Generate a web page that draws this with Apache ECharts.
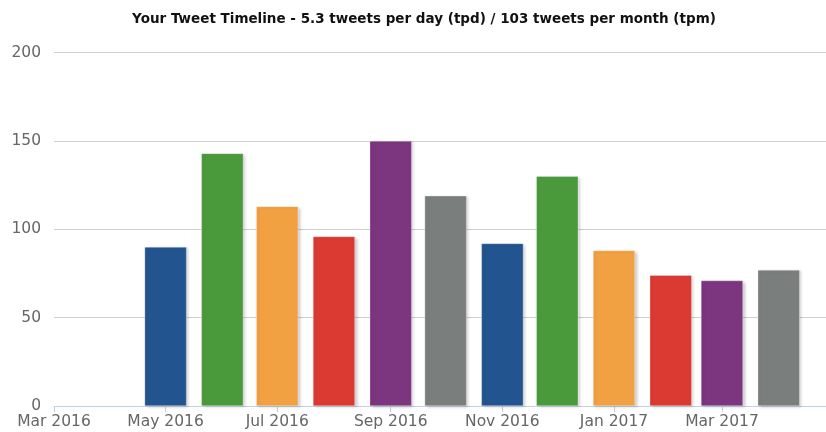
<!DOCTYPE html>
<html>
<head>
<meta charset="utf-8">
<script src="https://cdn.jsdelivr.net/npm/echarts@6/dist/echarts.min.js"></script>
<style>
html,body{margin:0;padding:0;background:#fff;}
#chart{width:826px;height:432px;}
</style>
</head>
<body>
<div id="chart"></div>
<script>
// Data
const titleText = 'Your Tweet Timeline - 5.3 tweets per day (tpd) / 103 tweets per month (tpm)';
const months = ['2016-05','2016-06','2016-07','2016-08','2016-09','2016-10','2016-11','2016-12','2017-01','2017-02','2017-03','2017-04'];
const tweets = [90, 143, 113, 96, 150, 119, 92, 130, 88, 74, 71, 77];
const monthNames = ['Jan','Feb','Mar','Apr','May','Jun','Jul','Aug','Sep','Oct','Nov','Dec'];
const palette = ['#22558f', '#4a9a3b', '#f1a042', '#db3a33', '#7c357f', '#7a7e7c'];

const DAY = 86400000;
const W = 826, GRID_LEFT = 54, GRID_RIGHT = 0;
const BAR_W = 42;
// Visible axis range: 1 Mar 2016 to ~27 Apr 2017
const viewStart = new Date(2016, 2, 1).getTime() + 3600000;
const viewEnd = new Date(2017, 3, 26).getTime() + 20 * 3600000;
// ECharts widens a time axis carrying bars by half a bar width on each side;
// pass a narrower range so the widened range equals the visible one.
const axisLen = W - GRID_LEFT - GRID_RIGHT;
const pxPerMs = axisLen / (viewEnd - viewStart);
const pad = (BAR_W / 2) / pxPerMs;
const xMin = viewStart + pad;
const xMax = viewEnd - pad;

const chart = echarts.init(document.getElementById('chart'));
chart.setOption({
  animation: false,
  color: palette,
  title: {
    text: titleText,
    left: 419, top: 7, textAlign: 'center',
    textStyle: {fontFamily: 'DejaVu Sans', fontSize: 13.5, fontWeight: 'bold', color: '#111'}
  },
  grid: {left: GRID_LEFT, right: GRID_RIGHT, top: 52.7, bottom: 26, containLabel: false, outerBoundsMode: 'none'},
  xAxis: {
    type: 'time',
    min: xMin, max: xMax,
    minInterval: 75 * DAY, maxInterval: 75 * DAY,
    axisLine: {show: true, lineStyle: {color: '#c0d0e0', width: 1}},
    axisTick: {show: true, length: 6, lineStyle: {color: '#c0d0e0'}},
    splitLine: {show: false},
    axisLabel: {
      color: '#666', fontSize: 15.5, fontFamily: 'DejaVu Sans', margin: 8,
      showMinLabel: true, showMaxLabel: false, hideOverlap: false,
      formatter: function (v) { const d = new Date(v); return monthNames[d.getMonth()] + ' ' + d.getFullYear(); }
    }
  },
  yAxis: {
    type: 'value', min: 0, max: 200, interval: 50,
    axisLine: {show: false}, axisTick: {show: false},
    splitLine: {lineStyle: {color: '#d0d0d0', width: 1}},
    axisLabel: {color: '#666', fontSize: 15.5, fontFamily: 'DejaVu Sans', margin: 13}
  },
  series: [{
    type: 'bar',
    colorBy: 'data',
    barWidth: BAR_W,
    itemStyle: {
      borderColor: 'rgba(255,255,255,0.6)', borderWidth: 0.5,
      shadowColor: 'rgba(0,0,0,0.22)', shadowBlur: 3, shadowOffsetX: 2, shadowOffsetY: 1
    },
    data: months.map((m, i) => [m + '-01', tweets[i]])
  }]
});
</script>
</body>
</html>
